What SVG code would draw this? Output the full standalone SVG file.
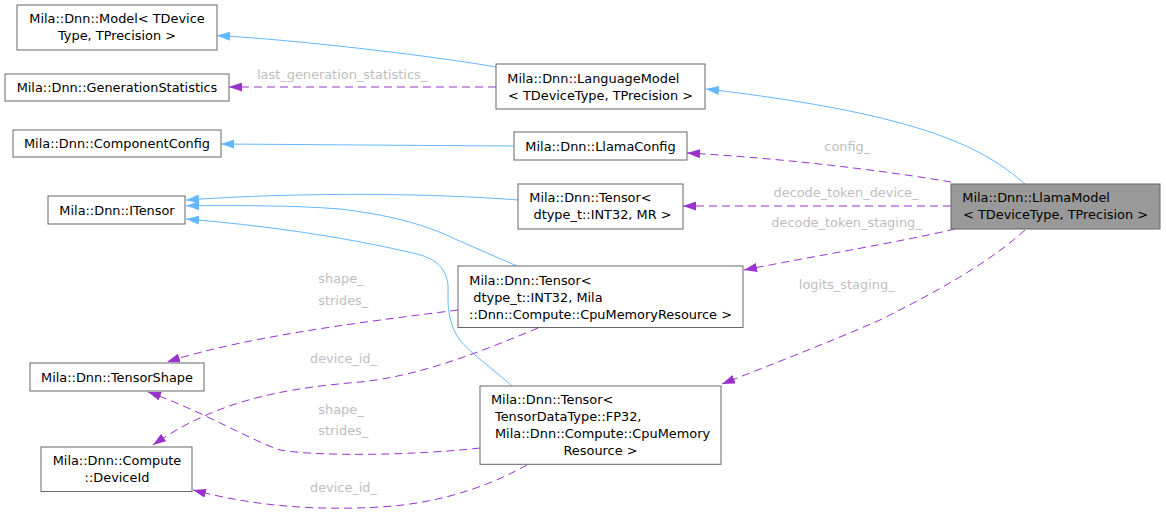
<svg xmlns="http://www.w3.org/2000/svg" width="1166" height="515" viewBox="0 0 1166 515">
<style>
  .node rect { fill: #ffffff; stroke: #666666; stroke-width: 1; }
  .node.main rect { fill: #999999; stroke: #666666; }
  .node text { font-family: "DejaVu Sans", "Liberation Sans", sans-serif; font-size: 12.9px; fill: #000000; }
  .m { text-anchor: middle; }
  .s { text-anchor: start; }
  .inh { fill: none; stroke: #63b8ff; stroke-width: 1; marker-end: url(#blueArrow); }
  .mem { fill: none; stroke: #9a32cd; stroke-width: 1; stroke-dasharray: 8,5; marker-end: url(#purpleArrow); }
  .lbl { font-family: "DejaVu Sans", "Liberation Sans", sans-serif; font-size: 12.9px; fill: #bebebe; }
</style>
<defs>
  <marker id="blueArrow" viewBox="0 0 13 9" refX="13" refY="4.5" markerWidth="13" markerHeight="9" markerUnits="userSpaceOnUse" orient="auto">
    <path d="M0,0 L13,4.5 L0,9 z" fill="#63b8ff" stroke="none"/>
  </marker>
  <marker id="purpleArrow" viewBox="0 0 13 9" refX="13" refY="4.5" markerWidth="13" markerHeight="9" markerUnits="userSpaceOnUse" orient="auto">
    <path d="M0,0 L13,4.5 L0,9 z" fill="#9a32cd" stroke="none"/>
  </marker>
</defs>
<rect x="0" y="0" width="1166" height="515" fill="#ffffff"/>

<g id="edges">
  <!-- inheritance -->
  <path class="inh" d="M496,67 C440,57 300,40 217,35.5"/>
  <path class="inh" d="M1025,184 C985,150 930,115 706,89"/>
  <path class="inh" d="M514,146 C420,145.5 300,144.5 221,144"/>
  <path class="inh" d="M518,200 C430,193 300,192 186,200"/>
  <path class="inh" d="M517,266 L455,239 C435,229 400,216 340,209 C290,205 230,205.5 186,205.7"/>
  <path class="inh" d="M512,386 C490,366 462,348 455,332 C450,322 448,310 448,300 L448,285 C446,268 436,258 413,253 C340,236 260,225 186,219"/>
  <!-- members -->
  <path class="mem" d="M496,87 L229,87"/>
  <path class="mem" d="M951,182 C880,170 780,158 687,153"/>
  <path class="mem" d="M951,206 L683,206"/>
  <path class="mem" d="M955,229 C900,242 820,255 744,270"/>
  <path class="mem" d="M1025,230 C990,262 940,290 880,320 C830,342 770,365 722,384"/>
  <path class="mem" d="M458,310 C380,320 250,335 167,362"/>
  <path class="mem" d="M538,328 C480,352 420,376 360,382 C290,388 220,398 153,445"/>
  <path class="mem" d="M480,448 C420,455 320,457 280,450 C250,440 200,410 148,392"/>
  <path class="mem" d="M527,465 C500,480 450,503 380,507 C310,511 250,505 193,490"/>
  <!-- labels -->
  <text class="lbl" x="257" y="78.5">last_generation_statistics_</text>
  <text class="lbl" x="824.3" y="150.7">config_</text>
  <text class="lbl" x="846" y="197.3" text-anchor="middle">decode_token_device_</text>
  <text class="lbl" x="846.5" y="227.3" text-anchor="middle">decode_token_staging_</text>
  <text class="lbl" x="846.7" y="289" text-anchor="middle">logits_staging_</text>
  <text class="lbl" x="318.3" y="283.3">shape_</text>
  <text class="lbl" x="318.3" y="305">strides_</text>
  <text class="lbl" x="310" y="362.7">device_id_</text>
  <text class="lbl" x="318.3" y="413.7">shape_</text>
  <text class="lbl" x="318.3" y="435">strides_</text>
  <text class="lbl" x="310" y="492">device_id_</text>
</g>

<g id="node-model" class="node">
  <rect x="17" y="5" width="200" height="45"/>
  <text class="m" x="117" y="23.3">Mila::Dnn::Model&lt; TDevice</text>
  <text class="m" x="117" y="40.3">Type, TPrecision &gt;</text>
</g>
<g id="node-generationstatistics" class="node">
  <rect x="5" y="74" width="224" height="27"/>
  <text class="m" x="117" y="92">Mila::Dnn::GenerationStatistics</text>
</g>
<g id="node-componentconfig" class="node">
  <rect x="13" y="130" width="208" height="27"/>
  <text class="m" x="117" y="148">Mila::Dnn::ComponentConfig</text>
</g>
<g id="node-itensor" class="node">
  <rect x="48" y="196" width="137" height="28"/>
  <text class="m" x="117" y="214.5">Mila::Dnn::ITensor</text>
</g>
<g id="node-languagemodel" class="node">
  <rect x="496" y="64" width="209" height="45"/>
  <text class="s" x="507.3" y="82.5">Mila::Dnn::LanguageModel</text>
  <text class="m" x="600.5" y="99.5">&lt; TDeviceType, TPrecision &gt;</text>
</g>
<g id="node-llamaconfig" class="node">
  <rect x="514" y="132" width="173" height="28"/>
  <text class="m" x="600.5" y="150.5">Mila::Dnn::LlamaConfig</text>
</g>
<g id="node-tensor-int32-mr" class="node">
  <rect x="518" y="184" width="165" height="45"/>
  <text class="s" x="529.3" y="202.3">Mila::Dnn::Tensor&lt;</text>
  <text class="m" x="602.5" y="219.3">dtype_t::INT32, MR &gt;</text>
</g>
<g id="node-tensor-int32-cpu" class="node">
  <rect x="458" y="266" width="285" height="61.5"/>
  <text class="s" x="469.3" y="284.8">Mila::Dnn::Tensor&lt;</text>
  <text class="s" x="473.3" y="301.8">dtype_t::INT32, Mila</text>
  <text class="m" x="600.5" y="318.8">::Dnn::Compute::CpuMemoryResource &gt;</text>
</g>
<g id="node-tensorshape" class="node">
  <rect x="30" y="363" width="174" height="28"/>
  <text class="m" x="117" y="381.5">Mila::Dnn::TensorShape</text>
</g>
<g id="node-deviceid" class="node">
  <rect x="41" y="447" width="151" height="44.5"/>
  <text class="m" x="117" y="465">Mila::Dnn::Compute</text>
  <text class="m" x="117" y="482">::DeviceId</text>
</g>
<g id="node-tensor-fp32-cpu" class="node">
  <rect x="480" y="386" width="241" height="78.3"/>
  <text class="s" x="491" y="404">Mila::Dnn::Tensor&lt;</text>
  <text class="s" x="495" y="421">TensorDataType::FP32,</text>
  <text class="s" x="495" y="438">Mila::Dnn::Compute::CpuMemory</text>
  <text class="m" x="600.5" y="455">Resource &gt;</text>
</g>
<g id="node-llamamodel" class="node main">
  <rect x="951" y="184" width="209" height="45"/>
  <text class="s" x="962.3" y="202.3">Mila::Dnn::LlamaModel</text>
  <text class="m" x="1055.5" y="219.3">&lt; TDeviceType, TPrecision &gt;</text>
</g>
</svg>
